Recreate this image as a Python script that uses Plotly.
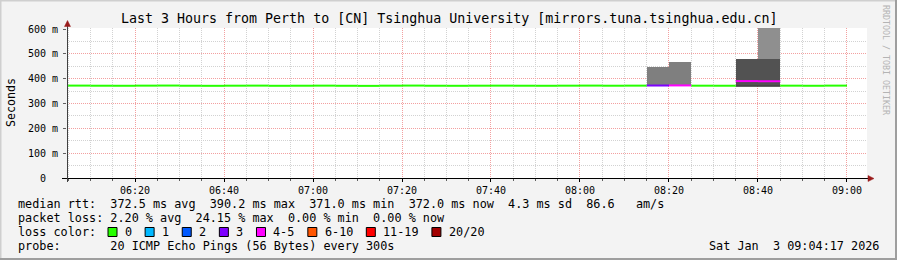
import plotly.graph_objects as go
import pandas as pd

# ---------------- data ----------------
DAY = "2026-01-03"
title_text = "Last 3 Hours from Perth to [CN] Tsinghua University [mirrors.tuna.tsinghua.edu.cn]"
x_start = "2026-01-03 06:04:43"
x_end = "2026-01-03 09:04:30"

step_end_times = ["06:05", "06:10", "06:15", "06:20", "06:25", "06:30", "06:35", "06:40",
                  "06:45", "06:50", "06:55", "07:00", "07:05", "07:10", "07:15", "07:20",
                  "07:25", "07:30", "07:35", "07:40", "07:45", "07:50", "07:55", "08:00",
                  "08:05", "08:10", "08:15", "08:20", "08:25", "08:30", "08:35", "08:40",
                  "08:45", "08:50", "08:55", "09:00"]
median_ms = [371.8, 372.1, 371.6, 371.4, 371.9, 372.3, 371.5, 371.2, 371.7, 372.0, 371.3, 371.6,
             371.9, 371.4, 371.0, 371.8, 372.2, 371.5, 371.3, 371.7, 371.9, 371.6, 371.4, 371.8,
             372.1, 371.6, 371.9, 372.4, 372.8, 371.7, 371.5, 390.2, 389.6, 371.8, 371.4, 372.0]
loss_pings = [0, 0, 0, 0, 0, 0, 0, 0, 0, 0, 0, 0,
              0, 0, 0, 0, 0, 0, 0, 0, 0, 0, 0, 0,
              0, 0, 0, 3, 4.83, 0, 0, 4.2, 3.8, 0, 0, 0]

loss_labels = ["0", "1", "2", "3", "4-5", "6-10", "11-19", "20/20"]
loss_upper = [0, 1, 2, 3, 5, 10, 19, 20]
loss_colors = ["#26ff00", "#00b8ff", "#0059ff", "#7e00ff", "#ff00ff", "#ff5500", "#ff0000", "#a10000"]

smoke_times = ["08:20", "08:25", "08:40", "08:45"]
smoke_mid_lo = [371.0, 371.2, None, None]
smoke_mid_hi = [447.0, 466.0, None, None]
smoke_dark_lo = [None, None, 369.5, 369.5]
smoke_dark_hi = [None, None, 480.0, 480.0]
smoke_light_lo = [None, None, None, 480.0]
smoke_light_hi = [None, None, None, 615.0]
min_ping_ms = [None, None, 369.5, 369.5]

y_tick_vals = [0, 100, 200, 300, 400, 500, 600]
y_tick_text = ["0\u00a0\u00a0", "100 m", "200 m", "300 m", "400 m", "500 m", "600 m"]
x_tick_times = ["06:20", "06:40", "07:00", "07:20", "07:40", "08:00", "08:20", "08:40", "09:00"]

legend_rows = [
    "median rtt:  372.5 ms avg  390.2 ms max  371.0 ms min  372.0 ms now  4.3 ms sd  86.6   am/s",
    "packet loss: 2.20 % avg  24.15 % max  0.00 % min  0.00 % now",
    "loss color:",
    "probe:       20 ICMP Echo Pings (56 Bytes) every 300s",
]
date_text = "Sat Jan  3 09:04:17 2026"
watermark = "RRDTOOL / TOBI OETIKER"

# ---------------- layout geometry ----------------
W, H = 897, 260
PL, PR, PT, PB = 67, 30, 28, 82
PW, PH = W - PL - PR, H - PT - PB
FONT = "DejaVu Sans Mono"


def px(x):
    return (x - PL) / PW


def py(y):
    return (H - PB - y) / PH


def ts(t):
    return pd.Timestamp(f"{DAY} {t}")


def loss_class(n):
    for i, up in enumerate(loss_upper):
        if n <= up:
            return i
    return len(loss_upper) - 1


fig = go.Figure()

# smoke layers
for lo_arr, hi_arr, col in [(smoke_mid_lo, smoke_mid_hi, "#7f7f7f"),
                            (smoke_dark_lo, smoke_dark_hi, "#525252"),
                            (smoke_light_lo, smoke_light_hi, "#8f8f8f")]:
    xs, bases, hs = [], [], []
    for t, lo, hi in zip(smoke_times, lo_arr, hi_arr):
        if lo is None or hi is None:
            continue
        xs.append(ts(t) - pd.Timedelta(seconds=150))
        bases.append(lo)
        hs.append(hi - lo)
    fig.add_trace(go.Bar(x=xs, y=hs, base=bases, width=300000,
                         marker=dict(color=col, line=dict(width=0)),
                         showlegend=False, hoverinfo="skip"))

# min ping line (bottom edge of smoke)
mx, my = [], []
for t, v in zip(smoke_times, min_ping_ms):
    if v is None:
        continue
    mx += [ts(t) - pd.Timedelta(minutes=5), ts(t), None]
    my += [v, v, None]
fig.add_trace(go.Scatter(x=mx, y=my, mode="lines", line=dict(color="#2a2a2a", width=1),
                         showlegend=False, hoverinfo="skip"))

# median line coloured by loss
seg = {}
for t, v, l in zip(step_end_times, median_ms, loss_pings):
    c = loss_class(l)
    seg.setdefault(c, ([], []))
    seg[c][0].extend([ts(t) - pd.Timedelta(minutes=5), ts(t), None])
    seg[c][1].extend([v, v, None])
for c, (sx, sy) in seg.items():
    fig.add_trace(go.Scatter(x=sx, y=sy, mode="lines",
                             line=dict(color=loss_colors[c], width=2),
                             showlegend=False, hoverinfo="skip"))

fig.update_layout(
    width=W, height=H, autosize=False,
    margin=dict(l=PL, r=PR, t=PT, b=PB, pad=0),
    paper_bgcolor="#f3f3f3", plot_bgcolor="#ffffff",
    barmode="overlay", bargap=0,
    font=dict(family=FONT, size=10, color="#000000"),
    showlegend=False,
)
fig.update_xaxes(
    type="date", range=[x_start, x_end],
    tickvals=[ts(t) for t in x_tick_times], ticktext=x_tick_times,
    ticks="outside", ticklen=3, tickcolor="#000000", tickwidth=1,
    tickfont=dict(family=FONT, size=10, color="#000000"),
    showgrid=True, gridcolor="#f3a0a0", griddash="1px,1px", gridwidth=1,
    minor=dict(dtick=300000, tick0=ts("06:00"), showgrid=True, gridcolor="#d2d2d2",
               griddash="1px,1px", ticks="outside", ticklen=2, tickcolor="#606060"),
    showline=False, zeroline=False, fixedrange=True,
)
fig.update_yaxes(
    range=[0, 600 * PH / (PH - 1)],
    tickvals=y_tick_vals, ticktext=y_tick_text,
    ticks="outside", ticklen=3, tickcolor="#606060", ticklabelstandoff=3,
    tickfont=dict(family=FONT, size=10, color="#000000"),
    showgrid=True, gridcolor="#f3a0a0", griddash="1px,1px", gridwidth=1,
    minor=dict(dtick=50, showgrid=True, gridcolor="#d2d2d2", griddash="1px,1px"),
    showline=False, zeroline=False, fixedrange=True,
)

shapes = []
# frame shading
shapes.append(dict(type="line", xref="paper", yref="paper", x0=px(0.75), x1=px(0.75), y0=py(0), y1=py(H),
                   line=dict(color="#cfcfcf", width=1.5)))
shapes.append(dict(type="line", xref="paper", yref="paper", x0=px(0), x1=px(W), y0=py(0.75), y1=py(0.75),
                   line=dict(color="#cfcfcf", width=1.5)))
shapes.append(dict(type="line", xref="paper", yref="paper", x0=px(W - 1), x1=px(W - 1), y0=py(0), y1=py(H),
                   line=dict(color="#9e9e9e", width=2)))
shapes.append(dict(type="line", xref="paper", yref="paper", x0=px(0), x1=px(W), y0=py(H - 1), y1=py(H - 1),
                   line=dict(color="#9e9e9e", width=2)))
# axes
shapes.append(dict(type="line", xref="paper", yref="paper", x0=px(62), x1=px(868), y0=py(178.5), y1=py(178.5),
                   line=dict(color="#000000", width=1)))
shapes.append(dict(type="line", xref="paper", yref="paper", x0=px(67.5), x1=px(67.5), y0=py(182), y1=py(24),
                   line=dict(color="#404040", width=1)))
shapes.append(dict(type="path", xref="paper", yref="paper",
                   path=f"M {px(64.5)},{py(26.5)} L {px(70.5)},{py(26.5)} L {px(67.5)},{py(20.5)} Z",
                   fillcolor="#9a1c1c", line=dict(color="#9a1c1c", width=0.5)))
shapes.append(dict(type="path", xref="paper", yref="paper",
                   path=f"M {px(868)},{py(175.5)} L {px(868)},{py(181.5)} L {px(874)},{py(178.5)} Z",
                   fillcolor="#9a1c1c", line=dict(color="#9a1c1c", width=0.5)))

annotations = []


def label(text, x, y, size, xanchor="left", color="#000000", angle=0):
    annotations.append(dict(text=text.replace(" ", "\u00a0"), x=px(x), y=py(y), xref="paper", yref="paper",
                            xanchor=xanchor, yanchor="middle", showarrow=False, textangle=angle,
                            font=dict(family=FONT, size=size, color=color)))


label(title_text, W / 2, 19, 13.3, xanchor="center")
label("Seconds", 11, 102, 11.6, xanchor="center", angle=-90)
label(watermark, 886, 60, 8.3, xanchor="center", color="#b4b4b4", angle=90)

row_y = [204, 218, 232, 246]
for txt, yy in zip(legend_rows, row_y):
    label(txt, 16, yy, 11.8)
label(date_text, 881, 246, 11.8, xanchor="right")

# loss colour swatches
sx = 108.0
for lab, col in zip(loss_labels, loss_colors):
    shapes.append(dict(type="rect", xref="paper", yref="paper", x0=px(sx), x1=px(sx + 9),
                       y0=py(236.5), y1=py(227.5), fillcolor=col, line=dict(color="#000000", width=1)))
    label(lab, sx + 15, 232, 11.8)
    sx = sx + 15 + 7.12 * len(lab) + 15

fig.update_layout(shapes=shapes, annotations=annotations)
fig.write_html("out.html")
